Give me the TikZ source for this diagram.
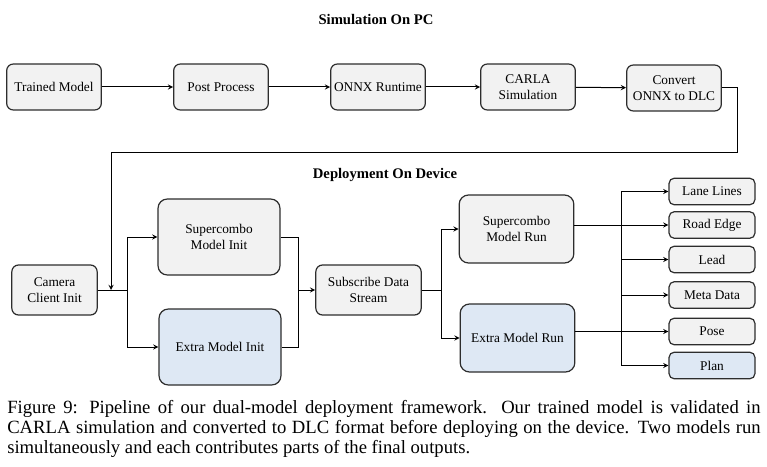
\documentclass[tikz,border=0pt]{standalone}
\usepackage{fontspec}
\setmainfont{Liberation Serif}
\usepackage{tikz}
\usetikzlibrary{arrows,positioning}
\definecolor{boxgray}{RGB}{242,242,242}
\definecolor{boxblue}{RGB}{222,232,244}
\definecolor{edgegray}{RGB}{45,45,45}
\tikzstyle{arrow} = [->,>=stealth,line width=0.75pt,color=black]
\tikzstyle{wire} = [line width=0.75pt,color=black]
\tikzstyle{box} = [draw=edgegray,line width=0.9pt,fill=boxgray,rounded corners=5pt,align=center,inner sep=1pt,font=\fontsize{10}{12}\selectfont]
\tikzstyle{pcbox} = [box,minimum width=71pt,minimum height=34.5pt]
\tikzstyle{bigbox} = [box,rounded corners=7pt,minimum width=91.5pt,minimum height=57pt]
\tikzstyle{runbox} = [box,rounded corners=7pt,minimum width=86pt,minimum height=51pt]
\tikzstyle{outbox} = [box,rounded corners=4pt,minimum width=64.5pt,minimum height=20pt]
\tikzstyle{heading} = [font=\fontsize{11}{13}\selectfont\bfseries]

\begin{document}
\begin{tikzpicture}[x=0.75pt,y=-0.75pt]
    \useasboundingbox (0,0) rectangle (767,467);

    % Titles
    \node[heading] (simtitle) at (376,20) {Simulation On PC};
    \node[heading] (devtitle) at (385,175) {Deployment On Device};

    % Simulation row
    \node[pcbox] (tm) at (54,87) {Trained Model};
    \node[pcbox] (pp) at (221,87) {Post Process};
    \node[pcbox] (onnx) at (378,87) {ONNX Runtime};
    \node[pcbox] (carla) at (528,87) {CARLA\\Simulation};
    \node[pcbox] (conv) at (674,88) {Convert\\ONNX to DLC};

    \draw[arrow] (tm) -- (pp);
    \draw[arrow] (pp) -- (onnx);
    \draw[arrow] (onnx) -- (carla);
    \draw[arrow] (carla) -- (conv);

    % Device part
    \node[box,minimum width=64pt,minimum height=37.5pt] (cam) at (54.5,290) {Camera\\Client Init};
    \node[bigbox] (smi) at (219,237) {Supercombo\\Model Init};
    \node[bigbox,fill=boxblue] (emi) at (220,347) {Extra Model Init};
    \node[box,minimum width=79pt,minimum height=37.5pt] (sub) at (368.5,290) {Subscribe Data\\Stream};
    \node[runbox] (smr) at (516.5,229) {Supercombo\\Model Run};
    \node[runbox,fill=boxblue] (emr) at (517.5,338) {Extra Model Run};

    % Outputs
    \node[outbox] (lane) at (712,191.5) {Lane Lines};
    \node[outbox] (road) at (712,225) {Road Edge};
    \node[outbox] (lead) at (712,259.5) {Lead};
    \node[outbox] (meta) at (712,295) {Meta Data};
    \node[outbox] (pose) at (712,331.5) {Pose};
    \node[outbox,fill=boxblue] (plan) at (712,365.5) {Plan};

    % Bends
    \coordinate (xr) at (737,152);
    \coordinate (xl) at (111,152);
    \coordinate (drop) at (111,290);
    \coordinate (fork1) at (127,290);
    \coordinate (join1) at (298,290);
    \coordinate (fork2) at (441,290);
    \coordinate (bus) at (621,0);

    % PC to device
    \draw[arrow] (conv.east) -| (xr) -- (xl) -- (drop);

    \draw[wire] (cam.east) -- (fork1);
    \draw[arrow] (fork1) |- (smi.west);
    \draw[arrow] (fork1) |- (emi.west);

    \draw[wire] (smi.east) -| (join1);
    \draw[wire] (emi.east) -| (join1);
    \draw[arrow] (join1) -- (sub.west);

    \draw[wire] (sub.east) -- (fork2);
    \draw[arrow] (fork2) |- (smr.west);
    \draw[arrow] (fork2) |- (emr.west);

    \draw[arrow] (road.west -| smr.east) -- (road.west);
    \draw[arrow] (pose.west -| emr.east) -- (pose.west);

    \draw[wire] (bus |- lane.west) -- (bus |- plan.west);
    \foreach \n in {lane,lead,meta,plan}
        \draw[arrow] (bus |- \n.west) -- (\n.west);

    % Caption
    \node[anchor=north west,inner sep=0pt,text width=565pt,align=justify,
          font=\fontsize{14}{15}\selectfont] (caption) at (7,400)
        {Figure 9: Pipeline of our dual-model deployment framework.  Our trained model is validated in\linebreak
         CARLA simulation and converted to DLC format before deploying on the device. Two models run\linebreak
         simultaneously and each contributes parts of the final outputs.};
\end{tikzpicture}
\end{document}
